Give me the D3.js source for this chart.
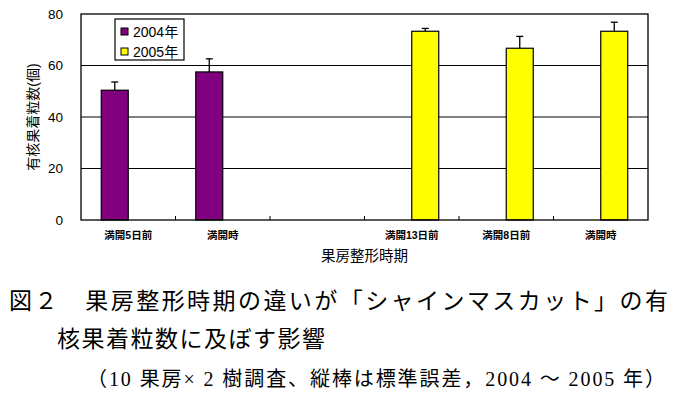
<!DOCTYPE html>
<html lang="ja">
<head>
<meta charset="UTF-8">
<title>果房整形時期と有核果着粒数</title>
<script src="https://d3js.org/d3.v7.min.js"></script>
<style>
    body { margin: 0; background: white; }
    svg { display: block; }
    .chart text { font-family: "Liberation Sans", "Noto Sans CJK JP", sans-serif; fill: #000; }
    .caption { font-family: "Liberation Serif", "Noto Sans CJK JP", serif; fill: #000; }
</style>
</head>
<body>
<svg width="676" height="399"></svg>
<script>
// data
const categories = ["満開5日前", "満開時", "", "満開13日前", "満開8日前", "満開時"];
const series = ["2004年", "2005年"];
const values2004 = [50.4, 57.5, null, null, null, null];
const err2004 = [3.2, 5.1, null, null, null, null];
const values2005 = [null, null, null, 73.3, 66.7, 73.3];
const err2005 = [null, null, null, 1.1, 4.6, 3.5];
const yTicks = [0, 20, 40, 60, 80];
const colors = ["#800080", "#ffff00"];

const svg = d3.select("svg");
const chart = svg.append("g").attr("class", "chart");

const plotLeft = 81, plotRight = 648, plotTop = 14, plotBottom = 220;

const x0 = d3.scaleBand()
    .domain(d3.range(categories.length))
    .range([plotLeft, plotRight])
    .padding(0);

const x1 = d3.scaleBand()
    .domain(series)
    .range([0, x0.bandwidth()])
    .paddingInner(0)
    .paddingOuter(0.75);

const y = d3.scaleLinear()
    .domain([0, 80])
    .range([plotBottom, plotTop]);

// gridlines
chart.append("g")
    .selectAll("line")
    .data(yTicks.filter(d => d > 0 && d < 80))
    .enter().append("line")
    .attr("x1", plotLeft).attr("x2", plotRight)
    .attr("y1", d => y(d)).attr("y2", d => y(d))
    .attr("stroke", "#000").attr("stroke-width", 1.2);

// y axis labels
const yAxis = chart.append("g")
    .attr("transform", `translate(${plotLeft},0)`)
    .call(d3.axisLeft(y).tickValues(yTicks).tickSize(0).tickPadding(18));
yAxis.select(".domain").remove();
yAxis.selectAll("text")
    .style("font-size", "13.5px")
    .attr("fill", "#000");

// bars
const rows = [];
categories.forEach((c, i) => {
    if (values2004[i] != null) rows.push({ i, s: series[0], v: values2004[i], e: err2004[i], c: colors[0] });
    if (values2005[i] != null) rows.push({ i, s: series[1], v: values2005[i], e: err2005[i], c: colors[1] });
});

const bars = chart.append("g")
    .selectAll("g")
    .data(rows)
    .enter().append("g")
    .attr("transform", d => `translate(${x0(d.i) + x1(d.s)},0)`);

bars.append("rect")
    .attr("x", 0)
    .attr("width", x1.bandwidth())
    .attr("y", d => y(d.v))
    .attr("height", d => y(0) - y(d.v))
    .attr("fill", d => d.c)
    .attr("stroke", "#000")
    .attr("stroke-width", 1.2);

// error bars (upper only)
bars.append("line")
    .attr("x1", x1.bandwidth() / 2).attr("x2", x1.bandwidth() / 2)
    .attr("y1", d => y(d.v)).attr("y2", d => y(d.v + d.e))
    .attr("stroke", "#000").attr("stroke-width", 1.3);
bars.append("line")
    .attr("x1", x1.bandwidth() / 2 - 3.5).attr("x2", x1.bandwidth() / 2 + 3.5)
    .attr("y1", d => y(d.v + d.e)).attr("y2", d => y(d.v + d.e))
    .attr("stroke", "#000").attr("stroke-width", 1.3);

// frame
chart.append("rect")
    .attr("x", plotLeft).attr("y", plotTop)
    .attr("width", plotRight - plotLeft).attr("height", plotBottom - plotTop)
    .attr("fill", "none").attr("stroke", "#000").attr("stroke-width", 1.3);

// x axis with inward ticks at band boundaries
chart.append("g")
    .selectAll("line")
    .data(d3.range(1, categories.length))
    .enter().append("line")
    .attr("x1", i => x0(i)).attr("x2", i => x0(i))
    .attr("y1", plotBottom).attr("y2", plotBottom - 4)
    .attr("stroke", "#000").attr("stroke-width", 1);

chart.append("g")
    .selectAll("text")
    .data(categories)
    .enter().append("text")
    .attr("x", (d, i) => x0(i) + x0.bandwidth() / 2)
    .attr("y", 239)
    .attr("text-anchor", "middle")
    .style("font-size", "10.5px")
    .style("font-weight", "bold")
    .text(d => d);

// axis titles
chart.append("text")
    .attr("x", (plotLeft + plotRight) / 2)
    .attr("y", 261)
    .attr("text-anchor", "middle")
    .style("font-size", "14.5px")
    .text("果房整形時期");

chart.append("text")
    .attr("transform", `translate(38,${(plotTop + plotBottom) / 2}) rotate(-90)`)
    .attr("text-anchor", "middle")
    .style("font-size", "14px")
    .text("有核果着粒数(個)");

// legend
const legend = chart.append("g").attr("transform", "translate(115,19)");
legend.append("rect")
    .attr("width", 69).attr("height", 41)
    .attr("fill", "white").attr("stroke", "#000").attr("stroke-width", 1.2);
series.forEach((s, k) => {
    legend.append("rect")
        .attr("x", 6).attr("y", 9 + k * 20)
        .attr("width", 7).attr("height", 7)
        .attr("fill", colors[k]).attr("stroke", "#000").attr("stroke-width", 1);
    legend.append("text")
        .attr("x", 18).attr("y", 18 + k * 20)
        .style("font-size", "14px")
        .text(s);
});

// caption
const cap = svg.append("g").attr("class", "caption");
cap.append("text")
    .attr("x", 9).attr("y", 309)
    .attr("textLength", 659).attr("lengthAdjust", "spacing")
    .style("font-size", "23px")
    .text("図２　果房整形時期の違いが「シャインマスカット」の有");
cap.append("text")
    .attr("x", 57).attr("y", 347)
    .attr("textLength", 268).attr("lengthAdjust", "spacing")
    .style("font-size", "23px")
    .text("核果着粒数に及ぼす影響");
cap.append("text")
    .attr("x", 87).attr("y", 386)
    .attr("textLength", 578).attr("lengthAdjust", "spacing")
    .style("font-size", "20px")
    .text("（10 果房× 2 樹調査、縦棒は標準誤差，2004 ～ 2005 年）");
</script>
</body>
</html>
